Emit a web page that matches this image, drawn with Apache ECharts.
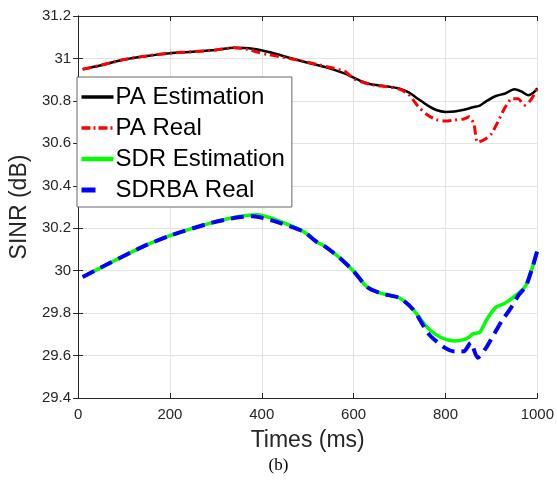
<!DOCTYPE html>
<html><head><meta charset="utf-8">
<script src="https://cdn.jsdelivr.net/npm/echarts@6/dist/echarts.min.js"></script>
<style>html,body{margin:0;padding:0;background:#fff}#c{width:557px;height:490px}</style>
</head><body><div id="c"></div>
<script>
const paEstT = [10,50,100,150,200,250,300,340,380,420,460,500,540,580,600,620,640,680,700,720,740,760,780,800,820,840,860,875,890,910,930,950,965,980,992,1000];
const paEstV = [30.949,30.968,30.995,31.012,31.025,31.032,31.04,31.05,31.046,31.028,31.003,30.98,30.958,30.93,30.91,30.89,30.877,30.866,30.858,30.84,30.81,30.78,30.757,30.748,30.75,30.758,30.77,30.778,30.8,30.823,30.835,30.855,30.845,30.827,30.84,30.86];
const paRealT = [10,50,100,150,200,250,300,340,370,390,410,430,460,500,540,580,600,620,640,680,700,720,740,760,780,800,820,840,852,862,870,885,900,915,930,945,958,972,986,1000];
const paRealV = [30.949,30.968,30.995,31.012,31.025,31.032,31.04,31.05,31.043,31.03,31.02,31.012,31.0,30.982,30.962,30.94,30.905,30.888,30.876,30.865,30.855,30.83,30.775,30.735,30.712,30.705,30.71,30.715,30.725,30.69,30.605,30.618,30.645,30.705,30.77,30.81,30.81,30.78,30.805,30.858];
const sdrEstT = [10,70,140,200,290,350,390,430,490,520,535,570,600,630,660,700,730,760,790,820,840,850,860,875,890,910,930,960,975,990,1000];
const sdrEstV = [29.97,30.037,30.112,30.165,30.225,30.255,30.263,30.24,30.185,30.135,30.118,30.06,29.997,29.922,29.893,29.871,29.816,29.733,29.685,29.669,29.675,29.685,29.702,29.71,29.77,29.828,29.847,29.895,29.93,30.02,30.09];
const sdrbaRealT = [10,70,140,200,290,350,380,420,490,520,535,570,600,630,660,700,730,765,800,820,840,855,870,888,903,924,940,960,975,990,1000];
const sdrbaRealV = [29.97,30.037,30.112,30.165,30.225,30.252,30.256,30.238,30.185,30.135,30.118,30.06,29.997,29.922,29.893,29.871,29.816,29.698,29.635,29.619,29.62,29.66,29.59,29.635,29.69,29.768,29.816,29.887,29.926,30.02,30.095];
const seriesNames = ['PA Estimation','PA Real','SDR Estimation','SDRBA Real'];
const xTicks = [0,200,400,600,800,1000];
const yTicks = [29.4,29.6,29.8,30,30.2,30.4,30.6,30.8,31,31.2];

const zip = (t, v) => t.map((x, i) => [x, v[i]]);
const FONT = '"Liberation Sans", Arial, Helvetica, sans-serif';
const axisCol = '#262626';
const chart = echarts.init(document.getElementById('c'), null, {renderer: 'canvas'});
const colors = ['#000000', '#ff0000', '#00ff00', '#0000ff'];
const widths = [2.5, 3, 3.5, 4];
const dashes = ['solid', [9, 4, 2, 4], 'solid', [13, 7]];
const legendDashes = ['solid', [9, 3, 2, 3], 'solid', [14, 18]];
const legendWidths = [3.5, 3.5, 4.5, 5];
const mkSeries = (i, data, z) => ({
  name: seriesNames[i], type: 'line', data, smooth: 0.25, symbol: 'none', z,
  lineStyle: {color: colors[i], width: widths[i], type: dashes[i]}, itemStyle: {color: colors[i]}
});
chart.setOption({
  animation: false,
  title: {text: '(b)', left: 'center', top: 452, textStyle: {fontFamily: '"Liberation Serif", "Times New Roman", serif', fontSize: 17, fontWeight: 'normal', color: '#000'}},
  grid: {left: 77, right: 19, top: 16, bottom: 92, show: false},
  legend: {
    orient: 'vertical', left: 77, top: 77,
    data: seriesNames.map((n, i) => ({name: n, lineStyle: {color: colors[i], width: legendWidths[i], type: legendDashes[i]}})),
    backgroundColor: '#fff', borderColor: '#666', borderWidth: 1,
    padding: [8, 7, 5, 2], itemWidth: 32, itemHeight: 14, itemGap: 7,
    itemStyle: {opacity: 0},
    textStyle: {fontFamily: FONT, fontSize: 24, color: '#000', padding: [0,0,0,-3]}
  },
  xAxis: [{
    type: 'value', min: 0, max: 1000, interval: 200,
    name: 'Times (ms)', nameLocation: 'middle', nameGap: 31,
    nameTextStyle: {fontFamily: FONT, fontSize: 23, color: axisCol},
    axisLine: {show: true, lineStyle: {color: axisCol, width: 1}},
    axisTick: {show: true, inside: true, length: 5, lineStyle: {color: axisCol}},
    axisLabel: {fontFamily: FONT, fontSize: 15, color: axisCol, margin: 9,
      formatter: v => String(v)},
    splitLine: {show: true, lineStyle: {color: '#e3e3e3', width: 1}}
  }, {
    type: 'value', min: 0, max: 1000, interval: 200, position: 'top',
    axisLine: {show: true, lineStyle: {color: axisCol, width: 1}},
    axisTick: {show: true, inside: true, length: 5, lineStyle: {color: axisCol}},
    axisLabel: {show: false}, splitLine: {show: false}
  }],
  yAxis: [{
    type: 'value', min: 29.4, max: 31.2, interval: 0.2,
    name: 'SINR (dB)', nameLocation: 'middle', nameGap: 38,
    nameTextStyle: {fontFamily: FONT, fontSize: 23, color: axisCol},
    axisLine: {show: true, lineStyle: {color: axisCol, width: 1}},
    axisTick: {show: true, inside: true, length: 5, lineStyle: {color: axisCol}},
    axisLabel: {fontFamily: FONT, fontSize: 15, color: axisCol, margin: 7,
      formatter: v => String(Math.round(v * 10) / 10)},
    splitLine: {show: true, lineStyle: {color: '#e3e3e3', width: 1}}
  }, {
    type: 'value', min: 29.4, max: 31.2, interval: 0.2, position: 'right',
    axisLine: {show: true, lineStyle: {color: axisCol, width: 1}},
    axisTick: {show: true, inside: true, length: 5, lineStyle: {color: axisCol}},
    axisLabel: {show: false}, splitLine: {show: false}
  }],
  series: [
    mkSeries(0, zip(paEstT, paEstV), 3),
    mkSeries(1, zip(paRealT, paRealV), 4),
    mkSeries(2, zip(sdrEstT, sdrEstV), 3),
    mkSeries(3, zip(sdrbaRealT, sdrbaRealV), 4)
  ]
});
</script></body></html>
